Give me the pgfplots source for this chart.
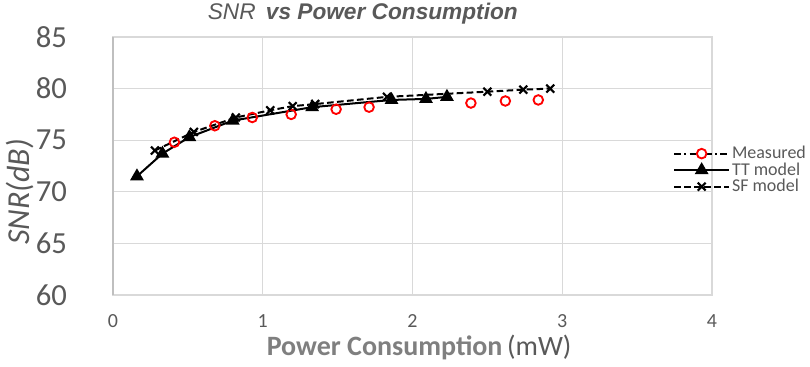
\documentclass[border=0pt]{standalone}
\usepackage{pgfplots}
\pgfplotsset{compat=1.18}
\usepackage{fontspec}
\setmainfont{Carlito}
\newfontfamily\arialf{Liberation Sans}
\definecolor{tickgray}{HTML}{595959}
\definecolor{gridgray}{HTML}{D9D9D9}
\definecolor{axgray}{HTML}{BFBFBF}
\definecolor{labgray}{HTML}{7F7F7F}
\definecolor{mred}{HTML}{FF0000}

\pgfplotstableread{
x y
0.41 74.8
0.68 76.4
0.93 77.2
1.19 77.5
1.49 78.0
1.71 78.2
2.39 78.6
2.62 78.8
2.84 78.9
}\measured

\pgfplotstableread{
x y
0.16 71.5
0.33 73.7
0.51 75.3
0.80 76.9
1.33 78.2
1.86 78.9
2.09 79.0
2.23 79.2
}\ttmodel

\pgfplotstableread{
x y
0.28 74.0
0.54 75.8
0.82 77.2
1.05 77.9
1.20 78.3
1.35 78.5
1.83 79.2
2.50 79.7
2.74 79.9
2.92 80.0
}\sfmodel

\begin{document}
\begin{tikzpicture}
\path[use as bounding box] (-84.75pt,-54pt) rectangle (522.75pt,221.25pt);
\begin{axis}[
  at={(0,0)}, anchor=south west,
  scale only axis, width=449.25pt, height=193.5pt,
  xmin=0, xmax=4, ymin=60, ymax=85,
  xtick={0,1,2,3,4}, ytick={60,65,70,75,80,85},
  grid=major,
  major grid style={gridgray, line width=1pt},
  axis line style={gridgray, line width=1pt},
  tick style={draw=none},
  clip=false,
  /pgf/number format/assume math mode=true,
  xticklabel style={font=\fontsize{15}{17}\selectfont, text=tickgray, yshift=-11pt},
  yticklabel style={font=\fontsize{23}{25}\selectfont, text=tickgray, xshift=-31pt},
  xlabel={{\bfseries\color{labgray}Power Consumption}\,{\color{tickgray}(mW)}},
  xlabel style={font=\fontsize{21}{23}\selectfont, at={(rel axis cs:0.511,-0.205)}, anchor=center, inner sep=0pt},
  ylabel={\itshape SNR(dB)},
  ylabel style={font=\fontsize{24}{26}\selectfont, text=tickgray, at={(rel axis cs:-0.156,0.40)}, anchor=center, rotate=0, inner sep=0pt},
  legend image code/.code={\draw[mark repeat=2,mark phase=2] plot coordinates {(0pt,0pt) (20.5pt,0pt) (41pt,0pt)};},
  legend style={at={(rel axis cs:0.935,0.484)}, anchor=west, draw=none, fill=none,
    font=\fontsize{13.5}{14}\selectfont, text=tickgray, inner sep=0pt, row sep=-1.5pt,
    nodes={inner sep=1.5pt}},
  legend cell align=left,
]
\draw[axgray, line width=2pt] (rel axis cs:0,0) -- (rel axis cs:0,1);
\node[font=\fontsize{17}{19}\selectfont, text=tickgray, anchor=base, inner sep=0pt]
  at (rel axis cs:0.417,1.066) {{\arialf\itshape SNR}\ \ {\arialf\bfseries\itshape vs Power Consumption}};
\addplot[only marks, mark=o, mark size=3.6pt, mark options={draw=mred, line width=1.4pt},
  legend image code/.code={\draw[black, line width=1.5pt, dash pattern=on 5pt off 2.5pt on 1.5pt off 2.5pt] (0pt,0pt) -- (41pt,0pt);
  \draw[mred, line width=1.4pt, fill=white] (20.5pt,0pt) circle (3.6pt);}]
  table[x=x,y=y] {\measured};
\addlegendentry{Measured}
\addplot[black, line width=1.5pt, mark=triangle*, mark size=4.5pt, mark options={solid}]
  table[x=x,y=y] {\ttmodel};
\addlegendentry{TT model}
\addplot[black, line width=1.5pt, dash pattern=on 5pt off 2.5pt, mark=x, mark size=4.2pt, mark options={solid, line width=1.6pt}]
  table[x=x,y=y] {\sfmodel};
\addlegendentry{SF model}
\end{axis}
\end{tikzpicture}
\end{document}
